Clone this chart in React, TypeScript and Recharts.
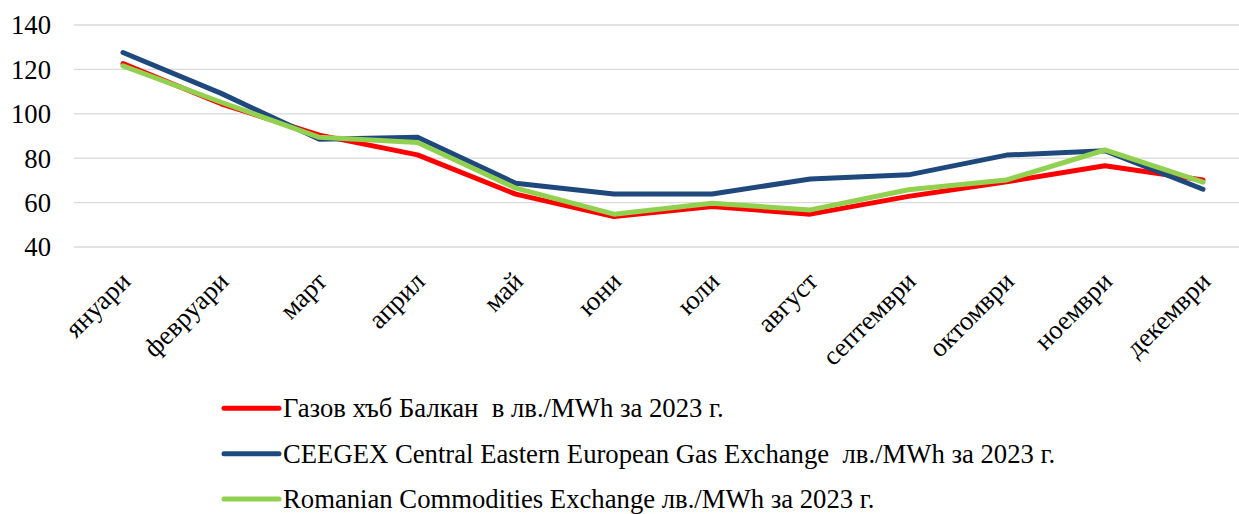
import React from "react";
import { LineChart, Line, XAxis, YAxis, CartesianGrid } from "recharts";

const months = ["януари", "февруари", "март", "април", "май", "юни", "юли", "август", "септември", "октомври", "ноември", "декември"];
const balkan = [122.6, 104.5, 90.4, 81.5, 63.8, 53.7, 58.2, 54.8, 62.8, 69.4, 76.6, 70.2];
const ceegex = [127.6, 109.2, 88.5, 89.4, 68.7, 63.9, 63.9, 70.6, 72.5, 81.4, 83.4, 66.0];
const romania = [121.6, 105.2, 89.4, 87.1, 66.5, 54.8, 59.7, 56.7, 65.8, 70.2, 83.7, 69.2];
const yTicks = [40, 60, 80, 100, 120, 140];

const seriesNames = [
  "Газов хъб Балкан  в лв./MWh за 2023 г.",
  "CEEGEX Central Eastern European Gas Exchange  лв./MWh за 2023 г.",
  "Romanian Commodities Exchange лв./MWh за 2023 г.",
];
const seriesKeys = ["balkan", "ceegex", "romania"];
const seriesColors = ["#FF0000", "#1F497D", "#92D050"];

const data = months.map((m, i) => ({ month: m, balkan: balkan[i], ceegex: ceegex[i], romania: romania[i] }));

const FONT = "Liberation Serif, Times New Roman, serif";
const FS = 26.7;

const XTick = (props: any) => {
  const { x, y, payload } = props;
  const px = x + 9;
  const py = y + 36;
  return (
    <text x={px} y={py} transform={`rotate(-45 ${px} ${py})`} textAnchor="end" fontFamily={FONT} fontSize={FS} fill="#000">
      {payload.value}
    </text>
  );
};

export default function App() {
  return (
    <div style={{ position: "absolute", left: 0, top: 0, width: 1239, height: 514, overflow: "hidden", background: "#fff" }}>
      <LineChart width={1300} height={514} data={data} margin={{ top: 25, right: 48, left: 0, bottom: 147 }}>
        <CartesianGrid vertical={false} stroke="#D9D9D9" strokeWidth={1.3} />
        <XAxis dataKey="month" axisLine={false} tickLine={false} tickSize={0} tickMargin={0} height={120} interval={0}
          padding={{ left: 49, right: 49 }} tick={<XTick />} />
        <YAxis domain={[40, 140]} ticks={yTicks} axisLine={false} tickLine={false} tickSize={0} tickMargin={23} width={74}
          tick={{ fontFamily: FONT, fontSize: FS, fill: "#000" }} />
        {seriesKeys.map((k, i) => (
          <Line key={k} type="linear" dataKey={k} stroke={seriesColors[i]} strokeWidth={5} dot={false}
            strokeLinecap="round" strokeLinejoin="round" isAnimationActive={false} />
        ))}
      </LineChart>
      <svg style={{ position: "absolute", left: 0, top: 0 }} width={1239} height={514}>
        {seriesNames.map((n, i) => {
          const cy = 408.3 + i * 45.35;
          return (
            <g key={n}>
              <line x1={224} x2={279} y1={cy} y2={cy} stroke={seriesColors[i]} strokeWidth={5} strokeLinecap="round" />
              <text x={283} y={cy + 9} fontFamily={FONT} fontSize={FS} fill="#000" style={{ whiteSpace: "pre" }}>{n}</text>
            </g>
          );
        })}
      </svg>
    </div>
  );
}
